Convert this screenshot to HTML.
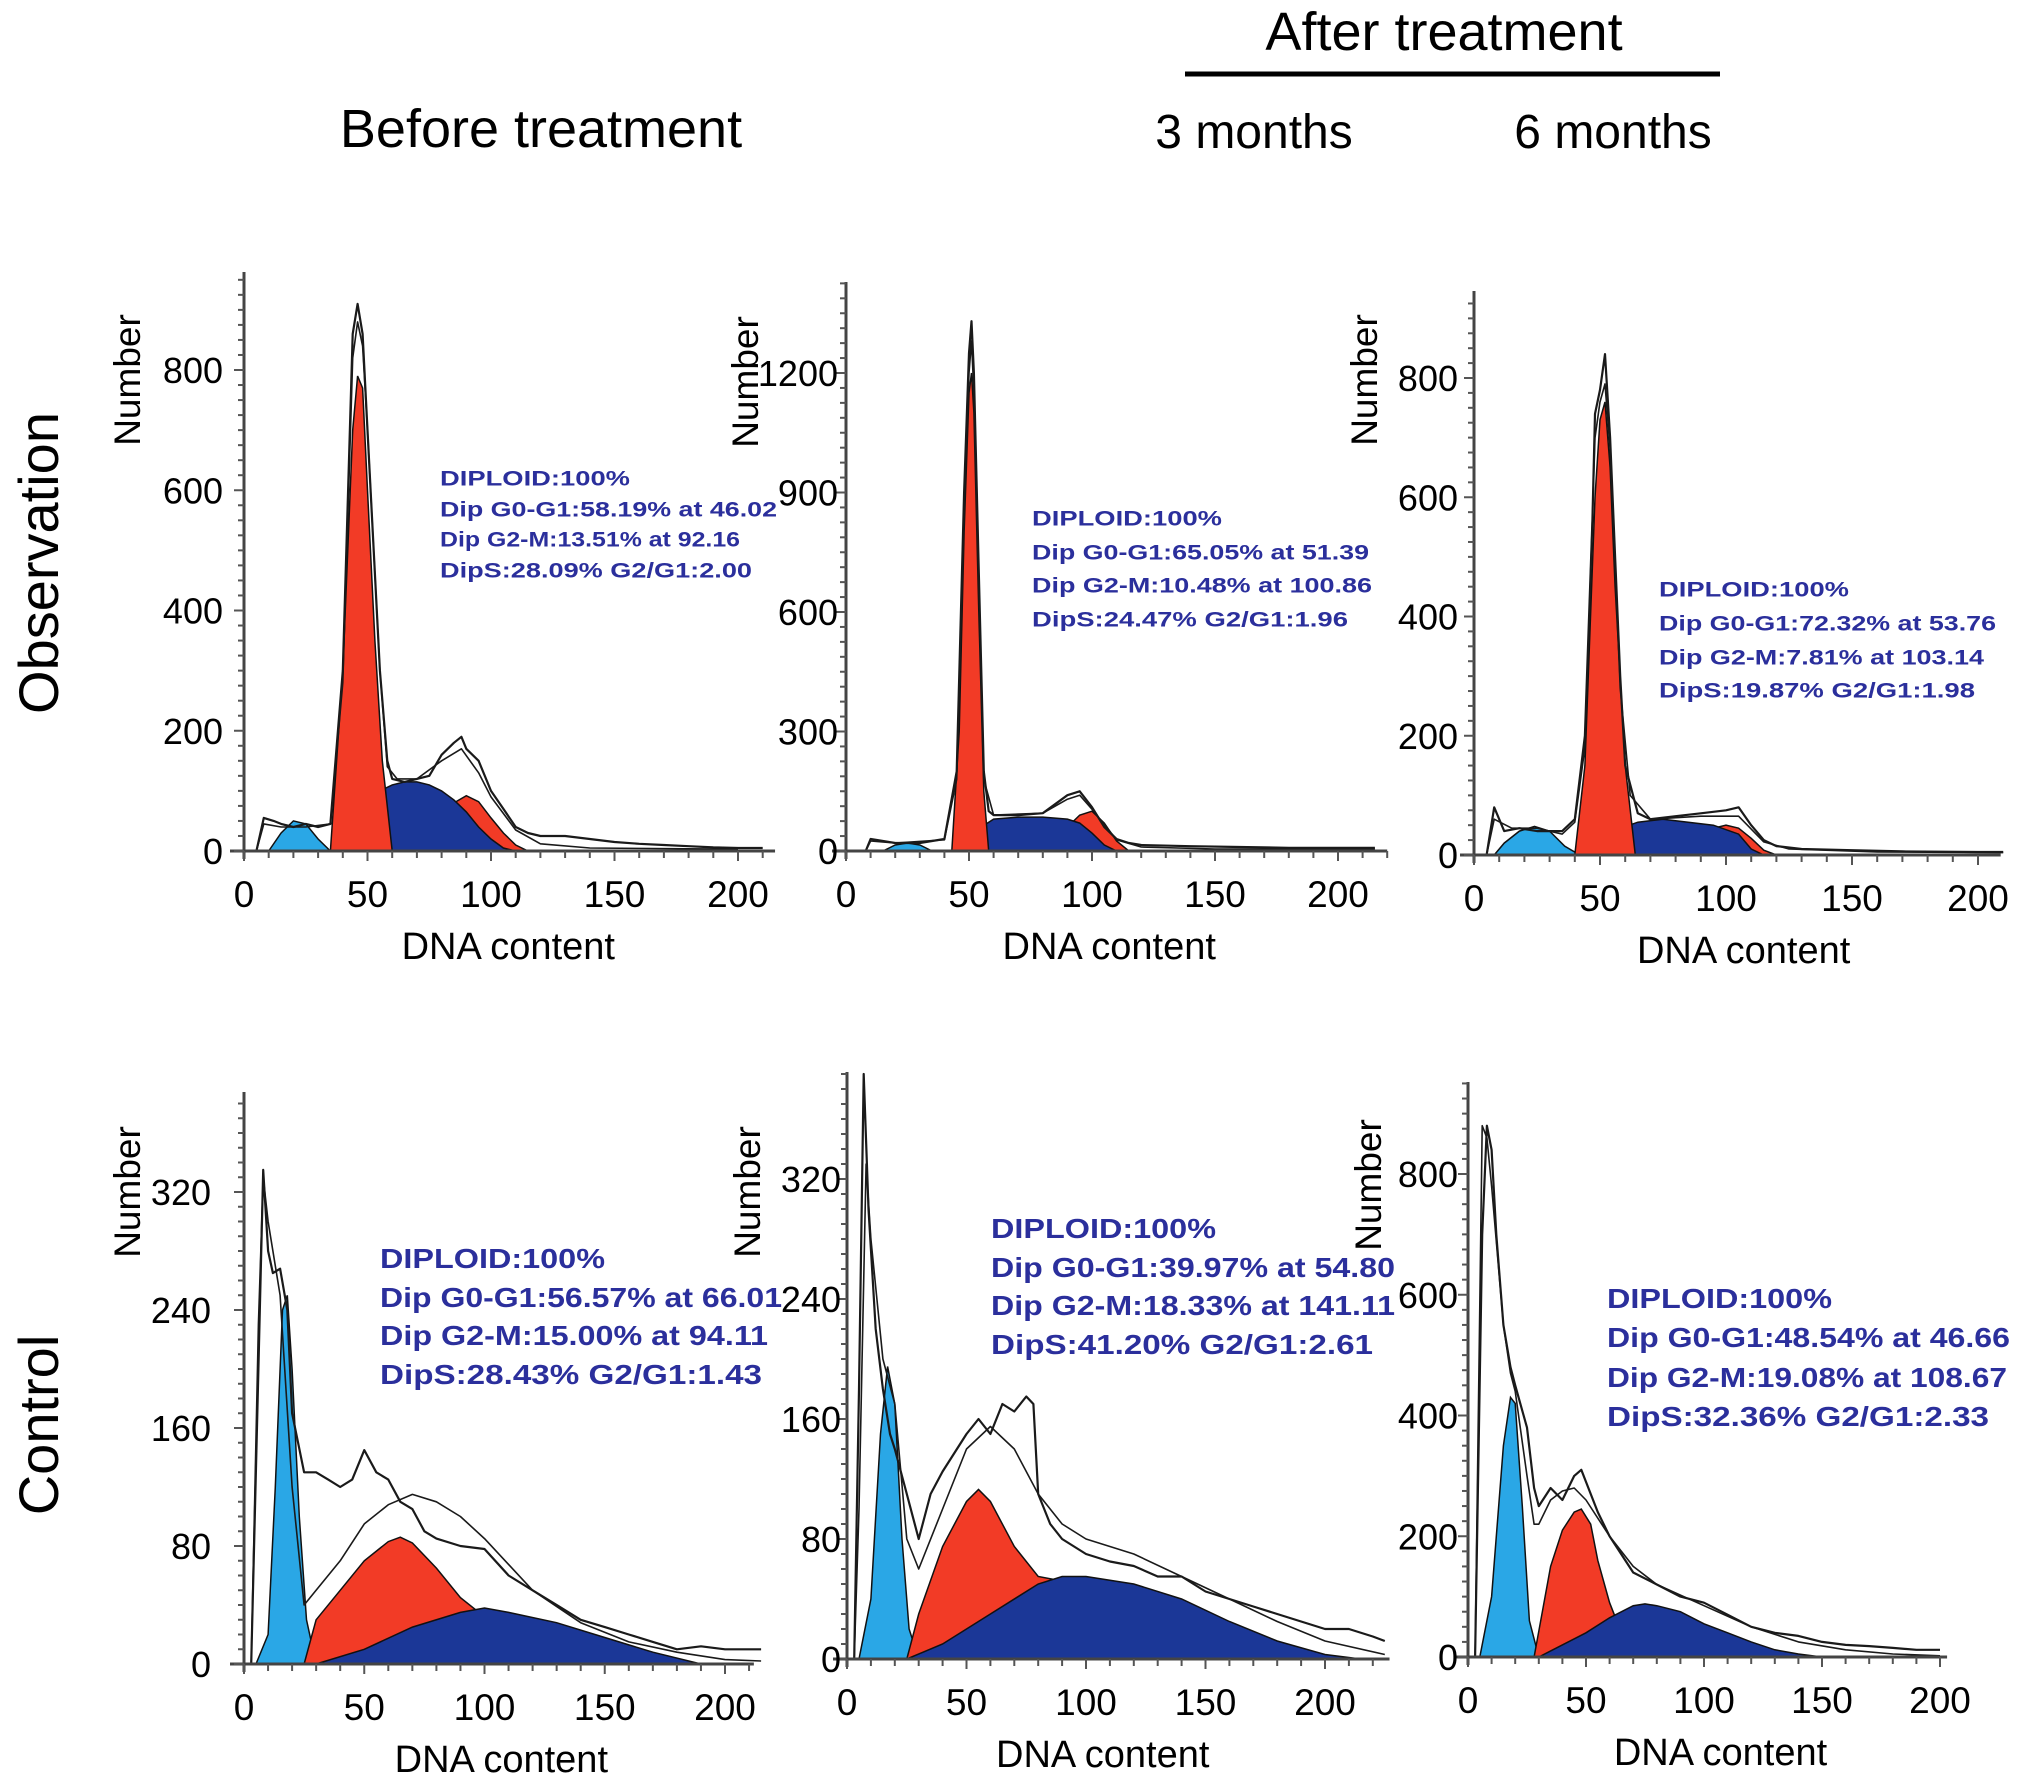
<!DOCTYPE html>
<html><head><meta charset="utf-8">
<style>
html,body{margin:0;padding:0;background:#fff;}
svg{display:block;}
text{font-family:"Liberation Sans",sans-serif;}
</style></head>
<body>
<svg id="fig" width="2031" height="1778" viewBox="0 0 2031 1778" xmlns="http://www.w3.org/2000/svg">
<rect width="2031" height="1778" fill="#fff"/>
<text x="1444" y="50" font-size="54" text-anchor="middle">After treatment</text>
<line x1="1185" y1="74" x2="1720" y2="74" stroke="#000" stroke-width="5"/>
<text x="541" y="147" font-size="54" text-anchor="middle">Before treatment</text>
<text x="1254" y="148" font-size="48" text-anchor="middle">3 months</text>
<text x="1613" y="148" font-size="48" text-anchor="middle">6 months</text>
<text transform="translate(58,563) rotate(-90)" font-size="56" text-anchor="middle">Observation</text>
<text transform="translate(58,1425) rotate(-90)" font-size="56" text-anchor="middle">Control</text>
</svg>
<script>
// ---- Data (DNA content, count) ----
const p1Debris=[[10,0],[15,30],[20,50],[25,45],[30,20],[35,0]];
const p1G2=[[85,80],[90,92],[95,82],[100,55],[105,30],[110,10],[115,0]];
const p1S=[[40,0],[50,60],[55,100],[60,110],[65,115],[70,115],[75,110],[80,100],[85,85],[90,65],[95,40],[100,20],[105,5],[110,0]];
const p1G1=[[35,0],[40,300],[44,700],[46,790],[48,770],[50,600],[53,350],[56,150],[60,0]];
const p1Hist=[[5,0],[8,55],[12,50],[15,45],[20,40],[25,45],[30,40],[35,45],[40,300],[44,860],[46,910],[48,860],[50,700],[55,300],[58,150],[60,120],[65,115],[70,120],[75,125],[80,160],[85,180],[88,190],[90,170],[95,150],[100,100],[105,70],[110,40],[115,30],[120,25],[130,25],[140,20],[150,15],[160,12],[170,10],[180,8],[190,6],[200,5],[210,5]];
const p1Fit=[[5,0],[8,45],[15,40],[25,40],[35,45],[40,280],[44,820],[46,880],[48,840],[50,700],[55,300],[58,140],[62,120],[70,120],[80,150],[88,170],[95,130],[100,90],[110,35],[120,12],[140,5],[200,3]];

const p2Debris=[[15,0],[20,15],[25,20],[30,15],[35,0]];
const p2G2=[[90,60],[95,90],[100,100],[105,70],[110,25],[115,0]];
const p2S=[[45,0],[50,40],[60,80],[70,85],[80,85],[90,80],[95,70],[100,45],[105,15],[110,0]];
const p2G1=[[43,0],[46,300],[48,800],[50,1150],[51,1200],[52,1100],[54,600],[56,150],[58,0]];
const p2Hist=[[8,0],[10,30],[15,25],[20,20],[25,20],[30,20],[35,25],[40,30],[45,200],[48,900],[50,1250],[51,1330],[52,1200],[54,700],[56,200],[58,100],[60,90],[70,90],[80,95],[90,140],[95,150],[100,110],[105,60],[110,30],[115,20],[120,15],[140,12],[160,10],[180,8],[200,8],[215,8]];
const p2Fit=[[8,0],[10,25],[20,20],[40,28],[45,180],[48,850],[50,1200],[51,1280],[52,1150],[54,650],[56,180],[60,90],[80,95],[90,130],[95,140],[100,105],[110,28],[120,10],[150,5],[215,5]];

const p3Debris=[[8,0],[12,20],[18,40],[24,48],[30,40],[36,15],[42,0]];
const p3G2=[[95,45],[100,50],[105,45],[110,28],[115,8],[120,0]];
const p3S=[[45,0],[55,40],[65,55],[75,60],[85,55],[95,50],[105,35],[110,10],[115,0]];
const p3G1=[[40,0],[44,150],[48,600],[50,730],[52,760],[54,650],[56,450],[60,150],[64,0]];
const p3Hist=[[5,0],[8,80],[12,40],[18,45],[25,40],[35,40],[40,60],[44,200],[47,560],[48,740],[50,780],[52,840],[54,700],[56,500],[58,300],[60,150],[65,70],[70,60],[80,65],[90,70],[100,75],[105,80],[110,50],[115,25],[120,15],[130,10],[150,8],[170,6],[200,5],[210,5]];
const p3Fit=[[5,0],[8,60],[15,45],[25,45],[35,35],[40,55],[44,180],[48,700],[50,760],[52,790],[54,680],[58,280],[62,100],[70,60],[90,65],[105,65],[115,22],[125,10],[160,5],[210,4]];

const p4Debris=[[5,0],[10,20],[13,120],[16,240],[18,250],[20,200],[23,100],[26,30],[30,0]];
const p4G1=[[25,0],[30,30],[40,50],[50,70],[60,83],[65,86],[70,82],[80,65],[90,45],[100,32],[105,30]];
const p4S=[[30,0],[50,10],[70,25],[90,35],[100,38],[110,35],[130,28],[150,18],[170,8],[190,0]];
const p4Hist=[[3,0],[6,200],[8,335],[10,280],[12,265],[15,268],[18,240],[20,170],[25,130],[30,130],[35,125],[40,120],[45,125],[50,145],[55,130],[60,125],[65,110],[70,105],[75,90],[80,85],[90,80],[100,78],[110,60],[120,50],[130,40],[140,30],[150,25],[160,20],[170,15],[180,10],[190,12],[200,10],[210,10],[215,10]];
const p4Fit=[[3,0],[6,230],[8,330],[10,300],[15,250],[20,120],[25,40],[30,50],[40,70],[50,95],[60,108],[70,115],[80,110],[90,100],[100,85],[120,50],[140,28],[160,15],[180,8],[200,3],[215,2]];

const p5Debris=[[5,0],[10,40],[14,150],[17,195],[20,170],[23,80],[26,20],[30,0]];
const p5G1=[[25,0],[30,30],[40,75],[50,105],[55,113],[60,105],[70,75],[80,55],[90,52]];
const p5S=[[25,0],[40,10],[60,30],[80,50],[90,55],[100,55],[120,50],[140,40],[160,25],[180,12],[200,3],[215,0]];
const p5Hist=[[3,0],[5,180],[7,390],[9,300],[12,220],[15,180],[18,150],[20,140],[25,110],[30,80],[35,110],[40,125],[50,150],[55,160],[60,150],[65,170],[70,165],[75,175],[78,170],[80,110],[85,90],[90,80],[100,70],[110,65],[120,62],[130,55],[140,55],[150,45],[160,40],[170,35],[180,30],[190,25],[200,20],[210,20],[220,15],[225,12]];
const p5Fit=[[3,0],[5,100],[8,330],[10,280],[15,200],[20,170],[25,80],[30,60],[40,100],[50,140],[60,155],[70,140],[80,110],[90,90],[100,80],[120,70],[140,55],[160,40],[180,25],[200,12],[225,3]];

const p6Debris=[[5,0],[10,100],[15,350],[18,430],[20,420],[23,250],[26,60],[30,0]];
const p6G1=[[28,0],[35,150],[40,210],[45,240],[48,245],[52,220],[55,160],[60,90],[65,40]];
const p6S=[[30,0],[50,40],[60,65],[70,85],[75,88],[80,85],[90,75],[100,55],[110,40],[120,25],[130,12],[140,5],[150,0]];
const p6Hist=[[3,0],[6,700],[8,880],[10,840],[12,700],[15,550],[18,480],[20,450],[25,380],[28,280],[30,250],[35,280],[40,260],[45,300],[48,310],[50,290],[55,240],[60,200],[65,170],[70,140],[80,120],[90,100],[100,90],[110,70],[120,50],[130,40],[140,35],[150,25],[160,20],[170,18],[180,15],[190,12],[200,12]];
const p6Fit=[[3,0],[6,880],[8,860],[10,780],[15,550],[18,470],[20,440],[25,300],[28,220],[30,220],[35,260],[40,275],[45,280],[50,260],[60,200],[70,150],[80,120],[100,85],[120,50],[140,25],[160,12],[180,5],[200,2]];

const yTicks1=[0,200,400,600,800];
const yTicks2=[0,300,600,900,1200];
const yTicks4=[0,80,160,240,320];
const yTicks6=[0,200,400,600,800];
const xTicks=[0,50,100,150,200];

const stats1=["DIPLOID:100%","Dip G0-G1:58.19% at 46.02","Dip G2-M:13.51% at 92.16","DipS:28.09% G2/G1:2.00"];
const stats2=["DIPLOID:100%","Dip G0-G1:65.05% at 51.39","Dip G2-M:10.48% at 100.86","DipS:24.47% G2/G1:1.96"];
const stats3=["DIPLOID:100%","Dip G0-G1:72.32% at 53.76","Dip G2-M:7.81% at 103.14","DipS:19.87% G2/G1:1.98"];
const stats4=["DIPLOID:100%","Dip G0-G1:56.57% at 66.01","Dip G2-M:15.00% at 94.11","DipS:28.43% G2/G1:1.43"];
const stats5=["DIPLOID:100%","Dip G0-G1:39.97% at 54.80","Dip G2-M:18.33% at 141.11","DipS:41.20% G2/G1:2.61"];
const stats6=["DIPLOID:100%","Dip G0-G1:48.54% at 46.66","Dip G2-M:19.08% at 108.67","DipS:32.36% G2/G1:2.33"];

const NS="http://www.w3.org/2000/svg";
const svg=document.getElementById('fig');
function mk(tag,attrs,parent){const e=document.createElementNS(NS,tag);for(const k in attrs)e.setAttribute(k,attrs[k]);(parent||svg).appendChild(e);return e;}

const panels=[
 {id:'obs-before',x0:244,x200:738,y0:851,yRef:800,yRefPx:370,top:272,xEnd:215,yTicks:yTicks1,lab:21,num:[127,380],st:stats1,sx:440,sy:[478,509,539,570],sw:[190,337,300,312],fs:21,
  comps:[[p1Debris,'#2aa7e6'],[p1G2,'#f23b26'],[p1S,'#1b3797'],[p1G1,'#f23b26']],hist:p1Hist,fit:p1Fit},
 {id:'obs-3m',x0:846,x200:1338,y0:851,yRef:1200,yRefPx:373,top:282,xEnd:220,yTicks:yTicks2,lab:8,num:[745,382],st:stats2,sx:1032,sy:[518,552,585,619],sw:[190,337,340,316],fs:21,
  comps:[[p2Debris,'#2aa7e6'],[p2G2,'#f23b26'],[p2S,'#1b3797'],[p2G1,'#f23b26']],hist:p2Hist,fit:p2Fit},
 {id:'obs-6m',x0:1474,x200:1978,y0:855,yRef:800,yRefPx:378,top:291,xEnd:209,yTicks:yTicks1,lab:16,num:[1364,380],st:stats3,sx:1659,sy:[589,623,657,690],sw:[190,337,325,316],fs:21,
  comps:[[p3Debris,'#2aa7e6'],[p3G2,'#f23b26'],[p3S,'#1b3797'],[p3G1,'#f23b26']],hist:p3Hist,fit:p3Fit},
 {id:'ctrl-before',x0:244,x200:725,y0:1664,yRef:320,yRefPx:1192,top:1092,xEnd:212,yTicks:yTicks4,lab:33,num:[127,1192],st:stats4,sx:380,sy:[1258,1297,1335,1374],sw:[225,402,388,382],fs:28,
  comps:[[p4Debris,'#2aa7e6'],[p4G1,'#f23b26'],[p4S,'#1b3797']],hist:p4Hist,fit:p4Fit},
 {id:'ctrl-3m',x0:847,x200:1325,y0:1659,yRef:320,yRefPx:1179,top:1072,xEnd:227,yTicks:yTicks4,lab:6,num:[747,1192],st:stats5,sx:991,sy:[1228,1267,1305,1344],sw:[225,404,404,382],fs:28,
  comps:[[p5Debris,'#2aa7e6'],[p5G1,'#f23b26'],[p5S,'#1b3797']],hist:p5Hist,fit:p5Fit},
 {id:'ctrl-6m',x0:1468,x200:1940,y0:1657,yRef:800,yRefPx:1174,top:1082,xEnd:203,yTicks:yTicks6,lab:10,num:[1368,1185],st:stats6,sx:1607,sy:[1298,1337,1377,1416],sw:[225,403,400,382],fs:28,
  comps:[[p6Debris,'#2aa7e6'],[p6G1,'#f23b26'],[p6S,'#1b3797']],hist:p6Hist,fit:p6Fit}
];

panels.forEach(p=>{
 const g=mk('g',{});
 
 
 const X=v=>p.x0+(p.x200-p.x0)*v/200;
 const Y=v=>p.y0-(p.y0-p.yRefPx)*v/p.yRef;
 const yMax=(p.y0-p.top)/(p.y0-p.yRefPx)*p.yRef;
 p.comps.forEach((c,i)=>{
  const pts=c[0];
  let d='M'+X(pts[0][0])+','+p.y0;
  pts.forEach(q=>{d+=' L'+X(q[0]).toFixed(1)+','+Y(Math.min(q[1],yMax)).toFixed(1);});
  d+=' L'+X(pts[pts.length-1][0])+','+p.y0+' Z';
  const e=mk('path',{d:d,fill:c[1],stroke:'#111','stroke-width':1.5},g);
  
  
 });
 [[p.fit,'fit-curve',1.6],[p.hist,'histogram-line',2.2]].forEach(s=>{
  const d=s[0].map((q,i)=>(i?'L':'M')+X(q[0]).toFixed(1)+','+Y(Math.min(q[1],yMax)).toFixed(1)).join(' ');
  const e=mk('path',{d:d,fill:'none',stroke:'#1a1a1a','stroke-width':s[2],'stroke-linejoin':'round'},g);
  
  
 });
 const ya=mk('line',{x1:p.x0,y1:p.top,x2:p.x0,y2:p.y0+8,stroke:'#444','stroke-width':3},g);
 
 
 const xa=mk('line',{x1:p.x0-14,y1:p.y0,x2:X(p.xEnd),y2:p.y0,stroke:'#444','stroke-width':3},g);
 
 
 const step=p.yTicks[1]-p.yTicks[0];
 for(let v=0;v<=yMax;v+=step/8){
  const major=Math.abs(v/step-Math.round(v/step))<1e-6;
  mk('line',{x1:p.x0-(major?10:6),y1:Y(v),x2:p.x0,y2:Y(v),stroke:'#555','stroke-width':2},g);
 }
 p.yTicks.forEach(v=>{
  const t=mk('text',{x:p.x0-p.lab,y:Y(v)+13,'font-size':36,'text-anchor':'end'},g);
  t.textContent=v;
  
  
 });
 for(let v=0;v<=p.xEnd;v+=10){
  mk('line',{x1:X(v),y1:p.y0,x2:X(v),y2:p.y0+(v%50===0?10:7),stroke:'#555','stroke-width':2},g);
 }
 xTicks.forEach(v=>{
  const t=mk('text',{x:X(v),y:p.y0+56,'font-size':37,'text-anchor':'middle'},g);
  t.textContent=v;
  
  
 });
 const xt=mk('text',{x:X(107),y:p.y0+108,'font-size':38,'text-anchor':'middle'},g);
 xt.textContent='DNA content';
 
 
 const yt=mk('text',{transform:'translate('+(p.num[0]+13)+','+p.num[1]+') rotate(-90)','font-size':37,'text-anchor':'middle'},g);
 yt.textContent='Number';
 
 
 p.st.forEach((s,i)=>{
  const t=mk('text',{x:p.sx,y:p.sy[i]+p.fs*0.36,'font-size':p.fs,'font-weight':'bold',fill:'#2b2f9c',textLength:p.sw[i],lengthAdjust:'spacingAndGlyphs'},g);
  t.textContent=s;
  
  
 });
});
</script>
</body></html>
